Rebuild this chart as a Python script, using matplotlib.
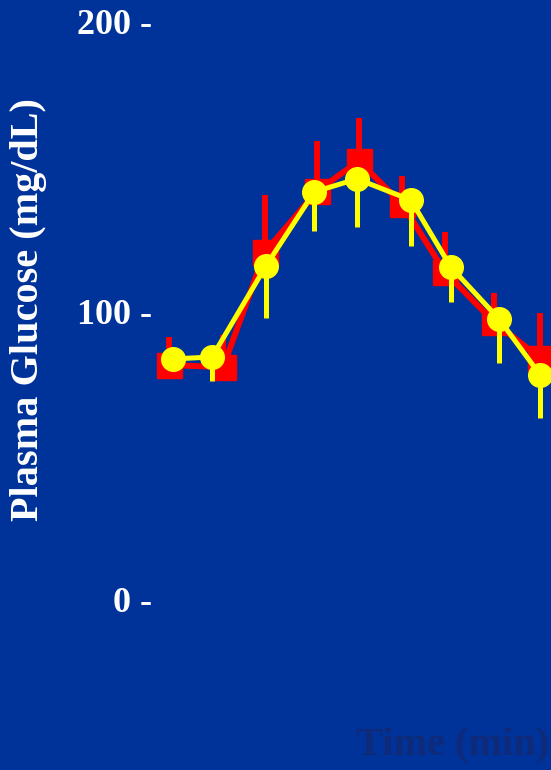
import matplotlib.pyplot as plt
import numpy as np

# glucose curves, two groups, mean with one-sided SEM bars
red_t = [-0.09, 1.09, 2.0, 3.13, 4.04, 4.98, 5.91, 6.98, 7.98]
red_glu = [81.3, 80.6, 120.4, 141.5, 151.9, 137.0, 113.5, 96.2, 83.7]
red_err = [9.7, 11.1, 19.7, 17.3, 14.9, 9.7, 13.8, 10.0, 15.6]

yel_t = [0.0, 0.85, 2.02, 3.07, 4.0, 5.17, 6.04, 7.09, 7.98]
yel_glu = [83.4, 84.1, 115.6, 141.2, 145.7, 138.4, 115.2, 97.2, 77.9]
yel_err = [3.0, 8.3, 18.0, 13.5, 16.6, 15.9, 12.1, 15.2, 14.9]

yticks = [0, 100, 200]
ytick_labels = ["0 -", "100 -", "200 -"]

bg = '#003399'
W, H = 551, 770

fig = plt.figure(figsize=(W / 100, H / 100), dpi=100, facecolor=bg)
ax = fig.add_axes([155 / W, 0, 1 - 155 / W, 1])
ax.set_facecolor(bg)
for s in ax.spines.values():
    s.set_visible(False)

# red series (drawn first, sits underneath)
ax.errorbar(red_t, red_glu, yerr=[np.zeros(len(red_err)), red_err],
            fmt='none', ecolor='#ff0000', elinewidth=4.3, capsize=0, zorder=2)
ax.plot(red_t, red_glu, color='#ff0000', lw=4.3, marker='s', ms=18,
        mfc='#ff0000', mec='#ff0000', zorder=3)

# yellow series
ax.errorbar(yel_t, yel_glu, yerr=[yel_err, np.zeros(len(yel_err))],
            fmt='none', ecolor='#ffff00', elinewidth=3.6, capsize=0, zorder=4)
ax.plot(yel_t, yel_glu, color='#ffff00', lw=3.6, marker='o', ms=17,
        mfc='#ffff00', mec='#ffff00', zorder=5)

# axis ranges so 0 -> y=600px, 200 -> y=22px
px = 2.89
ax.set_ylim((600 - H) / px, 600 / px)
ax.set_xlim((155 - 173) / 46, (W - 173) / 46)

ax.set_xticks([])
ax.set_yticks(yticks)
ax.set_yticklabels(ytick_labels)
ax.tick_params(axis='y', length=0, pad=2, labelcolor='white')
for lab in ax.get_yticklabels():
    lab.set_fontfamily('Liberation Serif')
    lab.set_fontweight('bold')
    lab.set_fontsize(26)

ax.set_ylabel('Plasma Glucose (mg/dL)', color='white', fontsize=29,
              fontfamily='Liberation Serif', fontweight='bold')
ax.yaxis.set_label_coords((47 - 155) / (W - 155), 1 - 310 / H)

ax.set_xlabel('Time (min)', color='#0f2a78', fontsize=29,
              fontfamily='Liberation Serif', fontweight='bold')
ax.xaxis.set_label_coords((452 - 155) / (W - 155), 1 - 726 / H)

fig.savefig('out.png', dpi=100, facecolor=bg)
